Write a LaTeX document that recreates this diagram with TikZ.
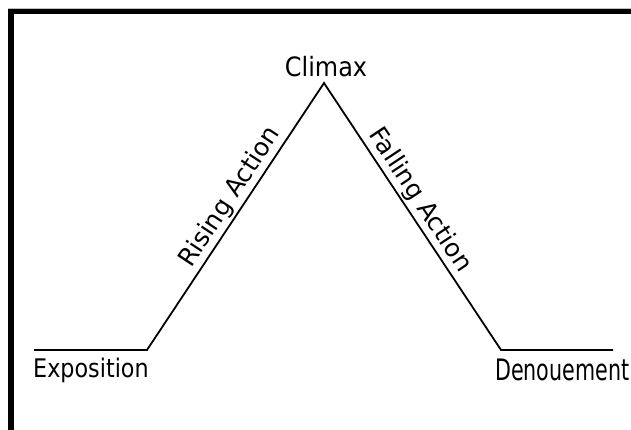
\documentclass[tikz,border=0pt]{standalone}
\usepackage{fontspec}
\setmainfont{DejaVu Sans}
\newfontfamily\expofont[FakeStretch=0.87]{DejaVu Sans}
\newfontfamily\denofont[FakeStretch=0.7]{DejaVu Sans}
\newfontfamily\climaxfont[FakeStretch=0.9]{DejaVu Sans}

\begin{document}
\begin{tikzpicture}[x=1pt,y=-1pt]
\tikzstyle{every node}+=[inner sep=0pt]
\tikzstyle{plot line}=[black,line width=1.8pt,line join=miter]
\tikzstyle{slope label}=[sloped,above=2pt,font=\fontsize{25}{30}\selectfont]
\useasboundingbox (0,0) rectangle (631,430);
% frame
\draw [black!25,line width=0.8pt] (8,8) -- (631,8);
\draw [black,line width=5.5pt] (11,430) -- (11,11.6) -- (631,11.6);
% plot points
\coordinate (expoL) at (34,350);
\coordinate (expoR) at (147,350);
\coordinate (peak) at (324,83);
\coordinate (denoL) at (501,350);
\coordinate (denoR) at (613,350);
\draw [plot line] (expoL) -- (expoR)
  -- node [slope label,pos=0.54] (rising) {Rising Action} (peak)
  -- node [slope label,pos=0.47] (falling) {Falling Action} (denoL)
  -- (denoR);
% labels
\node [anchor=base west] (expo) at (33,377.5) {\fontsize{25.6}{30}\expofont Exposition};
\node [anchor=base west] (deno) at (495,380.7) {\fontsize{29.5}{34}\denofont Denouement};
\node [anchor=base] (climax) at (326,76.7) {\fontsize{26.6}{32}\climaxfont Climax};
\end{tikzpicture}
\end{document}
